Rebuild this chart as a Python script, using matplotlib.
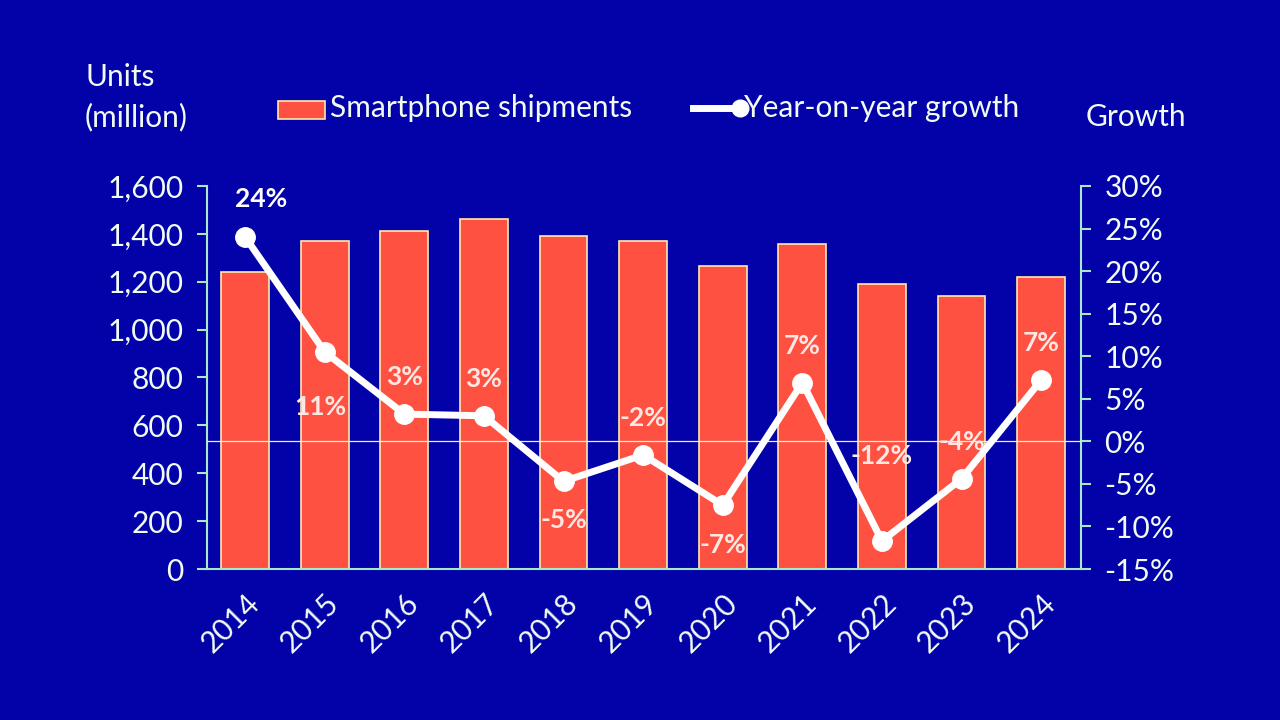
import matplotlib.pyplot as plt
import numpy as np

years = ['2014', '2015', '2016', '2017', '2018', '2019', '2020', '2021', '2022', '2023', '2024']
shipments = [1240, 1370, 1412, 1462, 1391, 1370, 1266, 1357, 1190, 1140, 1220]
growth = [24, 10.5, 3.2, 3.0, -4.7, -1.6, -7.5, 6.9, -11.7, -4.4, 7.2]
growth_labels = ['24%', '11%', '3%', '3%', '-5%', '-2%', '-7%', '7%', '-12%', '-4%', '7%']
# label offsets (x in bar units, y in % points) relative to each point
lab_dx = [0.2, -0.05, 0, 0, 0, 0, 0, 0, 0, 0, 0]
lab_dy = [4.5, -6.5, 4.3, 4.3, -4.5, 4.3, -4.7, 4.3, 10, 4.3, 4.3]

bg = '#0202A8'
bar_col = '#FF5142'
axis_col = '#A8E8C8'
txt_col = '#F2FBF2'

plt.rcParams['font.family'] = ['Lato', 'DejaVu Sans']

fig = plt.figure(figsize=(12.8, 7.2), dpi=100, facecolor=bg)
ax = fig.add_axes([0.1617, 0.2097, 0.6828, 0.532])
ax.set_facecolor(bg)
x = np.arange(len(years))

ax.bar(x, shipments, width=0.6, color=bar_col, edgecolor='#FFE9B0', linewidth=1.2, zorder=2)
ax.set_xlim(-0.48, 10.5)
ax.set_ylim(0, 1600)
ax.set_yticks(range(0, 1601, 200))
ax.set_yticklabels([f'{v:,}' for v in range(0, 1601, 200)])
ax.set_xticks(x)
ax.set_xticklabels(years, rotation=45, ha='right', rotation_mode='anchor')

for s in ['top', 'right']:
    ax.spines[s].set_visible(False)
for s in ['left', 'bottom']:
    ax.spines[s].set_color(axis_col)
    ax.spines[s].set_linewidth(1.5)
ax.tick_params(axis='y', colors=axis_col, labelcolor=txt_col, labelsize=21.5, length=7, width=1.5, pad=10)
ax.tick_params(axis='x', length=0, labelcolor=txt_col, labelsize=21.5, pad=14)

ax2 = ax.twinx()
ax2.set_ylim(-15, 30)
ax2.set_yticks(range(-15, 31, 5))
ax2.set_yticklabels([f'{v}%' for v in range(-15, 31, 5)])
for s in ['top', 'left', 'bottom']:
    ax2.spines[s].set_visible(False)
ax2.spines['right'].set_color(axis_col)
ax2.spines['right'].set_linewidth(1.5)
ax2.tick_params(axis='y', colors=axis_col, labelcolor=txt_col, labelsize=21.5, length=7, width=1.5, pad=10)

ax2.axhline(0, color='#F5F0C8', lw=0.9, zorder=3)
ax2.plot(x, growth, color='white', lw=5, marker='o', markersize=14, zorder=4)

for i, lab in enumerate(growth_labels):
    ax2.text(x[i] + lab_dx[i], growth[i] + lab_dy[i], lab, ha='center', va='center',
             color='white' if i == 0 else '#FFE8E4', fontsize=19, fontweight='bold', zorder=5)

# legend drawn by hand at top
fig.patches.append(plt.Rectangle((278 / 1280, 1 - 119 / 720), 47 / 1280, 18 / 720,
                                 transform=fig.transFigure, facecolor=bar_col,
                                 edgecolor='#FFE9B0', lw=1.2))
fig.text(330 / 1280, 1 - 108 / 720, 'Smartphone shipments', color=txt_col, fontsize=21.5, va='center')
fig.lines.append(plt.Line2D([693 / 1280, 740 / 1280], [1 - 108 / 720, 1 - 108 / 720],
                            transform=fig.transFigure, color='white', lw=5,
                            marker='o', markersize=12, markevery=[1]))
fig.text(744 / 1280, 1 - 108 / 720, 'Year-on-year growth', color=txt_col, fontsize=21.5, va='center')

fig.text(85 / 1280, 1 - 97 / 720, 'Units\n(million)', color=txt_col, fontsize=21.5, va='center',
         linespacing=1.5)
fig.text(1086 / 1280, 1 - 117 / 720, 'Growth', color=txt_col, fontsize=21.5, va='center')

fig.savefig('out.png', dpi=100, facecolor=bg)
